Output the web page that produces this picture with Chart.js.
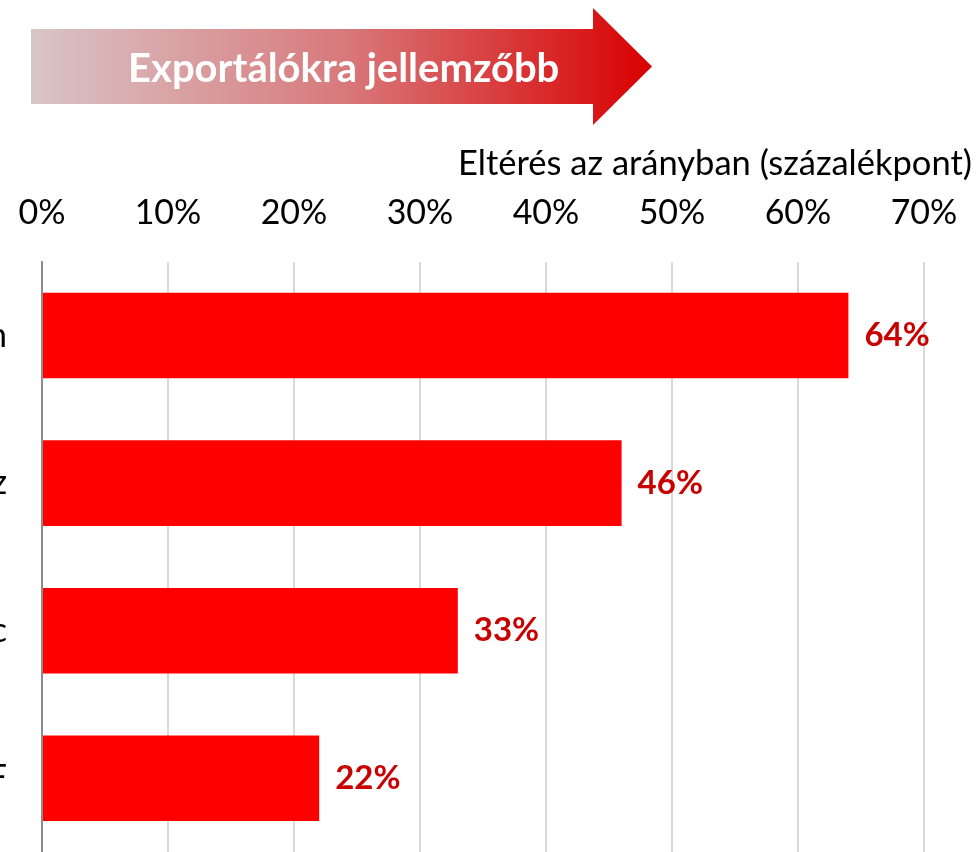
<!DOCTYPE html>
<html lang="hu">
<head>
<meta charset="utf-8">
<title>Exportálókra jellemzőbb</title>
<script src="https://cdn.jsdelivr.net/npm/chart.js@4/dist/chart.umd.min.js"></script>
<style>
    html, body { margin: 0; padding: 0; background: #fff; }
    #wrap { position: relative; width: 980px; height: 852px; overflow: hidden; font-family: "Lato", sans-serif; }
    #chart { position: absolute; left: 0; top: 0; }
    #arrow {
        position: absolute; left: 31px; top: 8px; width: 621px; height: 117px;
        background: linear-gradient(to right, #d9c5c7 0%, #d87a7c 50%, #d90000 100%);
        clip-path: polygon(0 21px, 562px 21px, 562px 0, 621px 58.5px, 562px 117px, 562px 96px, 0 96px);
    }
    #arrowText {
        position: absolute; left: 128px; top: 42px; line-height: 50px;
        color: #fff; font-weight: bold; font-size: 40px; white-space: nowrap;
    }
    #axisTitle {
        position: absolute; right: 8px; top: 141px; line-height: 42px;
        color: #000; font-size: 34.5px; white-space: nowrap;
    }
</style>
</head>
<body>
<div id="wrap">
    <canvas id="chart" width="980" height="852"></canvas>
    <div id="arrow"></div>
    <div id="arrowText">Exportálókra jellemzőbb</div>
    <div id="axisTitle">Eltérés az arányban (százalékpont)</div>
</div>
<script>
// kategóriák (a bal szélen levágva látszanak)
const kategoriak = ["n", "z", "c", "F"];
// eltérés az arányban, százalékpont (0-1)
const ertekek = [0.64, 0.46, 0.33, 0.22];
// tengely beosztás
const tengelyMin = 0;
const tengelyMax = 0.7;
const tengelyLepes = 0.1;

const betu = "Lato, sans-serif";

const cimkePlugin = {
    id: "cimkek",
    afterDatasetsDraw(chart) {
        const ctx = chart.ctx;
        const meta = chart.getDatasetMeta(0);
        ctx.save();
        ctx.font = "bold 33px " + betu;
        ctx.fillStyle = "#c80000";
        ctx.textAlign = "left";
        ctx.textBaseline = "middle";
        meta.data.forEach((bar, i) => {
            ctx.fillText(Math.round(ertekek[i] * 100) + "%", bar.x + 16, bar.y);
        });
        ctx.restore();
    }
};

new Chart(document.getElementById("chart"), {
    type: "bar",
    data: {
        labels: kategoriak,
        datasets: [{
            data: ertekek,
            backgroundColor: "#ff0000",
            borderWidth: 0,
            barPercentage: 0.58,
            categoryPercentage: 1
        }]
    },
    options: {
        indexAxis: "y",
        responsive: false,
        devicePixelRatio: 1,
        animation: false,
        layout: { padding: { top: 165, right: 56, bottom: 0, left: 0 } },
        plugins: { legend: { display: false }, tooltip: { enabled: false } },
        scales: {
            x: {
                position: "top",
                min: tengelyMin,
                max: tengelyMax,
                ticks: {
                    stepSize: tengelyLepes,
                    color: "#000",
                    font: { family: betu, size: 34 },
                    padding: 28,
                    callback: v => Math.round(v * 100) + "%"
                },
                grid: { color: "#d9d9d9", lineWidth: 2, drawTicks: false },
                border: { display: false },
                afterFit: s => { s.paddingLeft = 0; s.paddingRight = 0; }
            },
            y: {
                ticks: { color: "#000", font: { family: betu, size: 34 }, padding: 35 },
                grid: { display: false, drawTicks: false },
                border: { color: "#8c8c8c", width: 2 },
                afterFit: s => { s.width = 42; s.paddingTop = 0; s.paddingBottom = 0; }
            }
        }
    },
    plugins: [cimkePlugin]
});
</script>
</body>
</html>
